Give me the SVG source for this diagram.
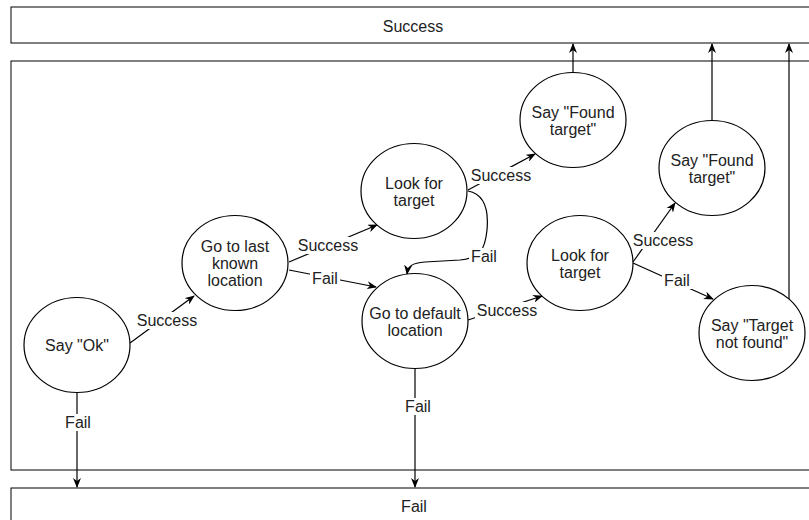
<svg xmlns="http://www.w3.org/2000/svg" width="809" height="520" viewBox="0 0 809 520">
  <style>
    .box { fill: #ffffff; stroke: #000000; stroke-width: 1; }
    .node ellipse { fill: #ffffff; stroke: #000000; stroke-width: 1.2; }
    text { font-family: "Liberation Sans", Arial, sans-serif; font-size: 16px; fill: #222222; text-anchor: middle; dominant-baseline: central; }
    .edge { fill: none; stroke: #000000; stroke-width: 1.2; }
    .arrow { marker-end: url(#arr); }
    .lbl rect { fill: #ffffff; }
  </style>
  <defs>
    <marker id="arr" viewBox="0 0 10 8" refX="9" refY="4" markerWidth="10" markerHeight="8" orient="auto" markerUnits="userSpaceOnUse">
      <path d="M0,0 L10,4 L0,8 L3,4 z" fill="#000000"/>
    </marker>
  </defs>

  <rect width="809" height="520" fill="#ffffff"/>

  <!-- outcome lanes -->
  <g id="lane-success">
    <rect class="box" x="11" y="7" width="820" height="36"/>
    <text x="413" y="26">Success</text>
  </g>
  <g id="lane-main">
    <rect class="box" x="11" y="61" width="820" height="409"/>
  </g>
  <g id="lane-fail">
    <rect class="box" x="11" y="488" width="820" height="60"/>
    <text x="414" y="506">Fail</text>
  </g>

  <!-- connectors -->
  <g id="connectors">
    <line class="edge arrow" x1="130" y1="343" x2="194" y2="296"/>
    <line class="edge arrow" x1="77" y1="393" x2="77" y2="487"/>
    <line class="edge arrow" x1="289" y1="262" x2="377" y2="225"/>
    <line class="edge arrow" x1="289" y1="270" x2="376" y2="287"/>
    <line class="edge arrow" x1="468" y1="190" x2="535" y2="154"/>
    <path class="edge arrow" d="M468,191 C484,194 489,208 487,230 C485,250 480,258 460,260 L425,262 C412,263 408,266 407,274"/>
    <line class="edge arrow" x1="468" y1="320" x2="542" y2="296"/>
    <line class="edge arrow" x1="415" y1="369" x2="415" y2="487"/>
    <line class="edge arrow" x1="633" y1="262" x2="675" y2="203"/>
    <line class="edge arrow" x1="633" y1="263" x2="713" y2="299"/>
    <line class="edge arrow" x1="573" y1="73" x2="573" y2="44"/>
    <line class="edge arrow" x1="712" y1="120" x2="712" y2="44"/>
    <line class="edge arrow" x1="789" y1="299" x2="789" y2="44"/>

    <!-- connector labels -->
    <g class="lbl"><rect x="135" y="312" width="64" height="17"/><text x="167" y="320">Success</text></g>
    <g class="lbl"><rect x="63" y="414" width="30" height="17"/><text x="78" y="422">Fail</text></g>
    <g class="lbl"><rect x="296" y="237" width="64" height="17"/><text x="328" y="245">Success</text></g>
    <g class="lbl"><rect x="310" y="270" width="30" height="17"/><text x="325" y="278">Fail</text></g>
    <g class="lbl"><rect x="469" y="167" width="64" height="17"/><text x="501" y="175">Success</text></g>
    <g class="lbl"><rect x="469" y="248" width="30" height="17"/><text x="484" y="256">Fail</text></g>
    <g class="lbl"><rect x="475" y="302" width="64" height="17"/><text x="507" y="310">Success</text></g>
    <g class="lbl"><rect x="403" y="398" width="30" height="17"/><text x="418" y="406">Fail</text></g>
    <g class="lbl"><rect x="631" y="232" width="64" height="17"/><text x="663" y="240">Success</text></g>
    <g class="lbl"><rect x="662" y="272" width="30" height="17"/><text x="677" y="280">Fail</text></g>
  </g>

  <!-- behaviour nodes -->
  <g id="say-ok" class="node">
    <ellipse cx="77" cy="345" rx="53" ry="47.5"/>
    <text x="77" y="345">Say "Ok"</text>
  </g>
  <g id="go-last-known" class="node">
    <ellipse cx="235" cy="263" rx="53" ry="47.5"/>
    <text x="235" y="246">Go to last</text>
    <text x="235" y="263">known</text>
    <text x="235" y="280">location</text>
  </g>
  <g id="look-for-target-1" class="node">
    <ellipse cx="414" cy="191" rx="53" ry="47.5"/>
    <text x="414" y="183">Look for</text>
    <text x="414" y="200">target</text>
  </g>
  <g id="say-found-1" class="node">
    <ellipse cx="573" cy="120" rx="53" ry="47.5"/>
    <text x="573" y="112">Say "Found</text>
    <text x="573" y="129">target"</text>
  </g>
  <g id="go-default" class="node">
    <ellipse cx="415" cy="321" rx="53" ry="47.5"/>
    <text x="415" y="313">Go to default</text>
    <text x="415" y="330">location</text>
  </g>
  <g id="look-for-target-2" class="node">
    <ellipse cx="580" cy="263" rx="53" ry="47.5"/>
    <text x="580" y="255">Look for</text>
    <text x="580" y="272">target</text>
  </g>
  <g id="say-found-2" class="node">
    <ellipse cx="712" cy="168" rx="53" ry="47.5"/>
    <text x="712" y="160">Say "Found</text>
    <text x="712" y="177">target"</text>
  </g>
  <g id="say-not-found" class="node">
    <ellipse cx="752" cy="333" rx="53" ry="47.5"/>
    <text x="752" y="325">Say "Target</text>
    <text x="752" y="342">not found"</text>
  </g>
</svg>
